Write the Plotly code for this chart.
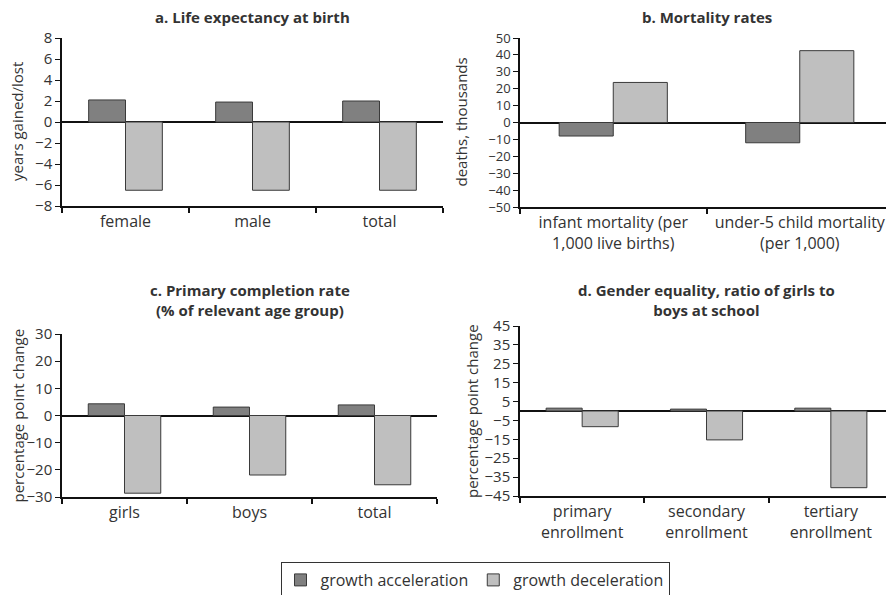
import plotly.graph_objects as go

# ---- data ----
cats_a = ["female", "male", "total"]
accel_a = [2.1, 1.9, 2.0]
decel_a = [-6.5, -6.5, -6.5]

cats_b = ["infant mortality (per<br>1,000 live births)", "under-5 child mortality<br>(per 1,000)"]
accel_b = [-8, -12]
decel_b = [23.7, 42.5]

cats_c = ["girls", "boys", "total"]
accel_c = [4.3, 3.1, 3.9]
decel_c = [-28.6, -21.9, -25.5]

cats_d = ["primary<br>enrollment", "secondary<br>enrollment", "tertiary<br>enrollment"]
accel_d = [1.5, 1.0, 1.5]
decel_d = [-8.3, -15.3, -40.6]

titles = ["<b>a. Life expectancy at birth</b>", "<b>b. Mortality rates</b>",
          "<b>c. Primary completion rate<br>(% of relevant age group)</b>",
          "<b>d. Gender equality, ratio of girls to<br>boys at school</b>"]
ytitles = ["years gained/lost", "deaths, thousands", "percentage point change", "percentage point change"]
yticks = [[-8, -6, -4, -2, 0, 2, 4, 6, 8],
          [-50, -40, -30, -20, -10, 0, 10, 20, 30, 40, 50],
          [-30, -20, -10, 0, 10, 20, 30],
          [-45, -35, -25, -15, -5, 5, 15, 25, 35, 45]]
yranges = [[-8, 8], [-50, 50], [-30, 30], [-45, 45]]

names = ["growth acceleration", "growth deceleration"]
colors = ["#808080", "#bfbfbf"]

# page has an 8px body margin, so the figure is 886x587 and drawn at (8, 8)
OFF = 8
W, H = 894 - OFF, 595 - OFF
# panel pixel boxes in page coordinates (left, right, top, bottom)
boxes = [(62, 443, 38, 206), (520, 893, 38, 207), (62, 437, 334, 497), (520, 893, 326, 496)]
ytitle_x = [17, 461, 17, 472]
title_y = [17, 17, 300, 300]
tick_sizes = [15, 13, 15, 15]

FONT = "'Open Sans', sans-serif"
TXT = "#333333"


def px(x):
    return (x - OFF) / W


def py(y):
    return 1 - (y - OFF) / H


fig = go.Figure()
data = [(cats_a, accel_a, decel_a), (cats_b, accel_b, decel_b),
        (cats_c, accel_c, decel_c), (cats_d, accel_d, decel_d)]

for i, (cats, acc, dec) in enumerate(data):
    xa = "x" if i == 0 else f"x{i+1}"
    ya = "y" if i == 0 else f"y{i+1}"
    for j, vals in enumerate([acc, dec]):
        fig.add_trace(go.Bar(x=cats, y=vals, name=names[j], xaxis=xa, yaxis=ya,
                             marker=dict(color=colors[j], line=dict(color="#3a3a3a", width=1)),
                             showlegend=(i == 0), legendgroup=names[j]))

layout = dict(width=W, height=H, margin=dict(l=0, r=0, t=0, b=0, autoexpand=False),
              paper_bgcolor="white", plot_bgcolor="white",
              barmode="group", bargap=0.42, bargroupgap=0,
              font=dict(family=FONT, color=TXT, size=15),
              showlegend=True,
              legend=dict(orientation="h", x=px(475), xanchor="center", y=py(562), yanchor="top",
                          bordercolor="#333333", borderwidth=1, font=dict(size=16, color=TXT),
                          itemwidth=30, tracegroupgap=0))

annotations = []
for i, (l, r, t, b) in enumerate(boxes):
    xk = "xaxis" if i == 0 else f"xaxis{i+1}"
    yk = "yaxis" if i == 0 else f"yaxis{i+1}"
    ya = "y" if i == 0 else f"y{i+1}"
    xa = "x" if i == 0 else f"x{i+1}"
    layout[xk] = dict(domain=[px(l), px(r)], anchor=ya, showline=True, linecolor="#111111", linewidth=2,
                      ticks="outside", tickson="boundaries", ticklen=5, tickcolor="#111111", tickwidth=1.5,
                      showgrid=False, tickfont=dict(size=16, color=TXT), automargin=False)
    layout[yk] = dict(domain=[py(b), py(t)], anchor=xa, range=yranges[i], tickvals=yticks[i],
                      showline=True, linecolor="#111111", linewidth=1.5, ticks="outside", ticklen=5,
                      tickcolor="#111111", showgrid=False, zeroline=True, zerolinecolor="#111111",
                      zerolinewidth=2, tickfont=dict(size=tick_sizes[i], color=TXT), automargin=False)
    annotations.append(dict(text=titles[i], x=px((l + r) / 2), y=py(title_y[i]), xref="paper", yref="paper",
                            xanchor="center", yanchor="middle", showarrow=False,
                            font=dict(size=15, color=TXT)))
    annotations.append(dict(text=ytitles[i], x=px(ytitle_x[i]), y=py((t + b) / 2), xref="paper", yref="paper",
                            xanchor="center", yanchor="middle", showarrow=False, textangle=-90,
                            font=dict(size=15, color=TXT)))

layout["annotations"] = annotations
fig.update_layout(**layout)
fig.write_html("out.html")
